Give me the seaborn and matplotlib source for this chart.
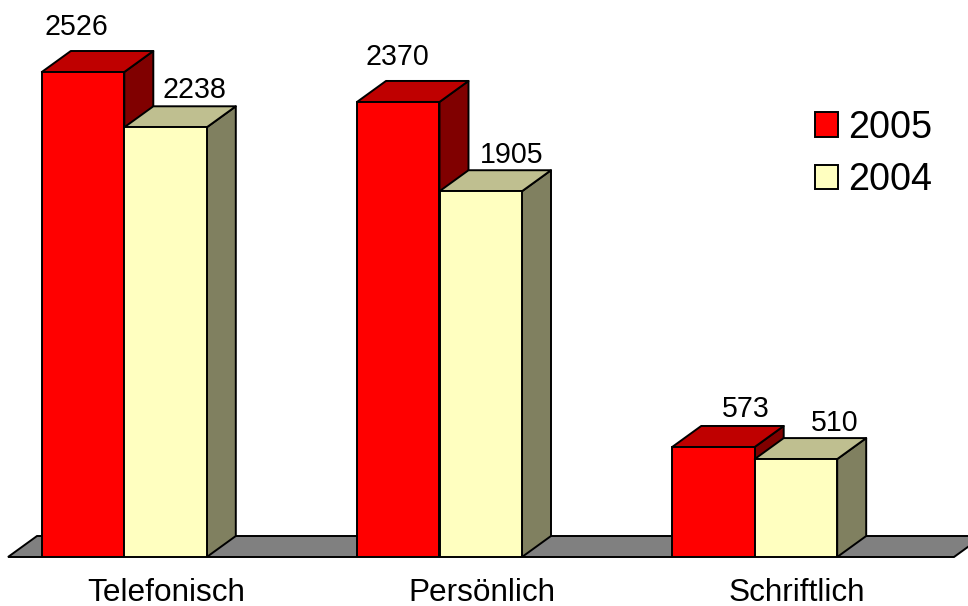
import numpy as np
import pandas as pd
import matplotlib
matplotlib.use("Agg")
import matplotlib.pyplot as plt
from matplotlib.patches import Polygon
import seaborn as sns

categories = ["Telefonisch", "Persönlich", "Schriftlich"]
years = ["2005", "2004"]
values_2005 = [2526, 2370, 573]
values_2004 = [2238, 1905, 510]

sns.set_style("white")
plt.rcParams['font.family'] = ['Liberation Sans', 'DejaVu Sans']

df = pd.DataFrame({
    "kanal": categories * 2,
    "jahr": ["2005"] * 3 + ["2004"] * 3,
    "anzahl": values_2005 + values_2004,
})

W, H = 968, 606
base_px = 557
px_x = 315.2          # pixels per category
px_y = 485 / 2526     # pixels per unit
dx = 29 / px_x        # depth of the fake 3d
dy = 21 / px_y

colors = {"2005": "#FF0000", "2004": "#FFFFC0"}
top_colors = {"2005": "#BF0000", "2004": "#BFBF90"}
side_colors = {"2005": "#800000", "2004": "#808060"}

fig = plt.figure(figsize=(W / 100, H / 100), dpi=100)
ax = fig.add_axes([0, (H - base_px) / H, 1, base_px / H])

sns.barplot(data=df, x="kanal", y="anzahl", hue="jahr", hue_order=years,
            order=categories, palette=colors, saturation=1, width=165 / px_x,
            gap=0, edgecolor="black", linewidth=1.4, ax=ax)

x0 = -124.3 / px_x
ax.set_xlim(x0, x0 + W / px_x)
ax.set_ylim(0, base_px / px_y)
ax.set_xlabel("")
ax.set_ylabel("")
ax.set_yticks([])
ax.set_xticks(np.arange(3) + 42 / px_x, categories)
ax.tick_params(axis="x", length=0, pad=15, labelsize=22.7, labelcolor="black")
ax.patch.set_alpha(0)
sns.despine(ax=ax, left=True, bottom=True)

# floor plate
fl, fr = (8 - 124.3) / px_x, (954 - 124.3) / px_x
ax.add_patch(Polygon([(fl, 0), (fl + dx, dy), (fr + dx, dy), (fr, 0)],
                     facecolor="#808080", edgecolor="black", linewidth=1.4,
                     zorder=1, clip_on=False))

# label offsets from the bar top centre, pixels
offsets = {"2005": [(-7, 45), (-1, 45), (32, 38)],
           "2004": [(29, 37), (31, 36), (39, 36)]}

z = 2
for cat_i in range(3):
    for year, container in zip(years, ax.containers):
        bar = container.patches[cat_i]
        xl, xr = bar.get_x(), bar.get_x() + bar.get_width()
        h = bar.get_height()
        ax.add_patch(Polygon([(xr, 0), (xr + dx, dy), (xr + dx, h + dy), (xr, h)],
                             facecolor=side_colors[year], edgecolor="black",
                             linewidth=1.4, zorder=z, joinstyle="round"))
        ax.add_patch(Polygon([(xl, h), (xl + dx, h + dy), (xr + dx, h + dy), (xr, h)],
                             facecolor=top_colors[year], edgecolor="black",
                             linewidth=1.4, zorder=z + 0.1, joinstyle="round"))
        bar.set_zorder(z + 0.2)
        ox, oy = offsets[year][cat_i]
        ax.annotate(f"{int(h)}", (bar.get_x() + bar.get_width() / 2, h),
                    xytext=(ox * 0.72, oy * 0.72), textcoords="offset points",
                    ha="center", va="center", fontsize=20.6, color="black", zorder=20)
        z += 1

handles = ax.containers[0].patches[0], ax.containers[1].patches[0]
ax.legend(handles, years, frameon=False, fontsize=27.2, loc="center left",
          bbox_to_anchor=(815 / W, 1 - 154 / H), bbox_transform=fig.transFigure,
          handlelength=0.62, handleheight=0.62, handletextpad=0.25,
          labelspacing=0.44, borderpad=0, borderaxespad=0, labelcolor="black")

plt.savefig("out.png", dpi=100)
